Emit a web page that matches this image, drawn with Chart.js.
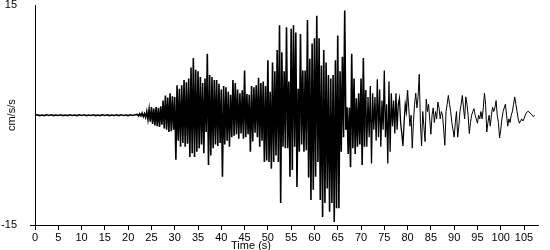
<!DOCTYPE html>
<html>
<head>
<meta charset="utf-8">
<script src="https://cdn.jsdelivr.net/npm/chart.js@4/dist/chart.umd.min.js"></script>
<style>
    html, body { margin: 0; padding: 0; background: #fff; }
    #wrap { width: 550px; height: 250px; }
</style>
</head>
<body>
<div id="wrap"><canvas id="accelChart" width="550" height="250"></canvas></div>
<script>
// --- Data ---
const quietStep = 0.5;   // s, pre-event part
const quietAccel = [
    0.0, 0.05, -0.05, 0.03, -0.05, 0.05, -0.03, 0.05, -0.05, 0.03,
    -0.03, 0.05, -0.05, 0.03, -0.05, 0.05, -0.03, 0.03, -0.05, 0.05,
    -0.03, 0.05, -0.05, 0.03, -0.03, 0.05, -0.05, 0.03, -0.05, 0.05,
    -0.03, 0.05, -0.05, 0.03, -0.03, 0.05, -0.05, 0.05, -0.03, 0.03,
    -0.05, 0.05, -0.03, 0.05
];
const strongStart = 22;  // s
const strongStep = 0.25; // s
const strongAccel = [
    0.1, -0.1, 0.2, -0.1,      // 22
    0.3, -0.2, 0.2, -0.3,
    0.5, -0.6, 0.8, -0.9,
    1.1, -1.2, 0.9, -1.4,      // 25
    1.1, -1.5, 1.0, -1.6,
    1.2, -1.3, 2.0, -1.8,
    2.7, -2.0, 2.4, -2.3,
    3.0, -2.2, 2.6, -2.0,
    2.5, -6.1, 4.1, -3.5,      // 30
    3.6, -4.3, 4.1, -3.8,
    4.8, -4.3, 4.5, -3.9,
    5.0, -5.7, 6.5, -5.2,
    7.8, -5.7, 6.2, -5.0,
    6.0, -4.5, 5.2, -4.0,      // 35
    4.4, -5.2, 5.0, -2.3,
    8.4, -6.8, 5.5, -5.5,
    5.2, -4.5, 4.8, -4.0,
    4.8, -4.2, 4.3, -3.8,
    3.5, -8.4, 4.0, -4.0,      // 40
    3.8, -3.5, 3.2, -4.3,
    2.8, -3.0, 4.8, -2.8,
    4.4, -2.6, 3.5, -3.2,
    3.0, -2.5, 3.4, -3.2,
    6.1, -3.0, 2.9, -2.6,      // 45
    2.8, -5.0, 4.0, -3.6,
    3.8, -2.4, 4.1, -3.0,
    5.1, -4.3, 4.4, -3.5,
    4.6, -6.4, 4.0, -6.2,
    7.5, -6.4, 3.2, -7.3,      // 50
    7.2, -6.4, 6.0, -5.5,
    8.9, -6.4, 12.3, -12.0,
    8.6, -4.3, 6.0, -4.5,
    12.0, -4.5, 4.6, -8.4,
    11.8, -7.5, 12.3, -4.3,    // 55
    11.3, -9.8, 3.6, -5.0,
    11.1, -4.0, 6.1, -5.0,
    6.1, -4.8, 13.0, -8.5,
    7.7, -11.6, 9.8, -10.2,
    10.5, -8.4, 13.6, -6.4,    // 60
    10.5, -11.6, 6.8, -13.9,
    8.9, -12.0, 7.2, -10.0,
    5.5, -13.2, 5.0, -12.0,
    5.5, -14.6, 7.5, -12.7,
    10.9, -12.7, 6.0, -5.0,    // 65
    8.0, -3.0, 14.3, -2.0,
    1.1, -5.3, 1.0, -7.1,
    8.4, -4.5, 5.0, -5.3,
    2.3, -4.3, 3.0, -4.0,
    5.0, -6.8, 7.8, -4.3,      // 70
    3.4, -4.3, 2.5, -3.0,
    4.0, -6.6, 3.0, -2.0,
    2.5, -3.5, 4.9, -3.0,
    3.5, -4.3, 2.0, -2.0,
    6.1, -3.0, 1.5, -6.6,      // 75
    4.6, -5.0, 3.0, -1.5,
    2.0, -2.5, 3.0, -2.0,
    1.5, 2.3, -1.0, -2.5,
    -4.2, -1.0, 1.5, 0.5,
    3.4, 1.0, -1.5, 0.0,       // 80
    -4.5, -1.0, 1.5, 3.0,
    1.0, 2.5, 5.6, -1.0,
    -4.2, 0.5, -1.5, -3.6,
    2.2, 0.5, 1.5, -0.5,
    -2.6, 0.0, 1.0, -1.0,      // 85
    0.5, -0.5, 1.8, 1.0,
    -0.5, 0.5, 0.0, -2.0,
    -4.1, 0.5, 1.5, 2.7,
    1.5, 0.5, -1.0, -2.0,
    -3.0, -1.0, 0.5, -3.0,     // 90
    -1.5, 0.5, 1.5, 2.7,
    1.0, -0.5, 2.5, 1.5,
    0.0, -2.5, -1.0, 0.0,
    0.5, 0.9, 0.0, -0.5,
    -1.1, 0.0, -0.5, 0.5,      // 95
    -0.5, 1.0, 3.0, 1.5,
    -2.3, -1.0, 0.0, -1.5,
    0.0, 1.1, 0.5, 1.0,
    2.0, 0.0, -1.0, -3.1,
    -2.0, -0.5, 0.5, 1.0,      // 100
    1.5, 0.0, -1.5, -0.5,
    -1.0, 0.0, 0.5, 1.5,
    2.5, 1.5, 0.5, -0.5,
    -1.1, -0.8, -0.5, -0.8,
    -0.5, 0.0, 0.3, 0.5,       // 105
    0.5, 0.3, 0.2, 0.0,
    -0.2, 0.0
];
const timeTicks = [0, 5, 10, 15, 20, 25, 30, 35, 40, 45, 50, 55, 60, 65, 70, 75, 80, 85, 90, 95, 100, 105];
const accelTicks = [-15, 15];
const xTitle = 'Time (s)';
const yTitle = 'cm/s/s';

document.addEventListener('DOMContentLoaded', function() {

    // --- build the x/y points ---
    const points = [];
    quietAccel.forEach((v, i) => points.push({ x: i * quietStep, y: v }));
    strongAccel.forEach((v, i) => points.push({ x: strongStart + i * strongStep, y: v }));

    const fontFamily = "'Liberation Sans', Arial, sans-serif";

    // --- axis titles and the little stub of the x axis left of the y axis ---
    const axisExtras = {
        id: 'axisExtras',
        afterDraw(chart) {
            const c = chart.ctx;
            const area = chart.chartArea;
            c.save();
            c.strokeStyle = '#000';
            c.lineWidth = 1;
            c.beginPath();
            c.moveTo(area.left - 5, Math.round(area.bottom) + 0.5);
            c.lineTo(area.left, Math.round(area.bottom) + 0.5);
            c.stroke();

            c.fillStyle = '#000';
            c.font = '11px ' + fontFamily;
            c.textAlign = 'center';
            c.textBaseline = 'middle';
            c.fillText(xTitle, 251, 246);
            c.translate(12, (area.top + area.bottom) / 2);
            c.rotate(-Math.PI / 2);
            c.fillText(yTitle, 0, 0);
            c.restore();
        }
    };

    new Chart(document.getElementById('accelChart'), {
        type: 'line',
        data: {
            datasets: [{
                data: points,
                borderColor: '#000',
                borderWidth: 1,
                pointRadius: 0,
                tension: 0,
                fill: false,
                segment: {
                    // the busy part of the record reads as a solid black band
                    borderWidth: ctx => {
                        const t = ctx.p0.parsed.x;
                        if (t < 71) return 1.6;
                        if (t < 80) return 1.3;
                        return 1;
                    }
                }
            }]
        },
        options: {
            responsive: false,
            animation: false,
            devicePixelRatio: 1,
            parsing: false,
            layout: { padding: { left: 0, right: 12, top: 0, bottom: 0 } },
            plugins: {
                legend: { display: false },
                tooltip: { enabled: false }
            },
            scales: {
                x: {
                    type: 'linear',
                    min: 0,
                    max: 108,
                    border: { color: '#000', width: 1 },
                    grid: { drawOnChartArea: false, tickLength: 5, color: '#000' },
                    ticks: { color: '#000', font: { family: fontFamily, size: 11 }, padding: 1, maxRotation: 0, autoSkip: false },
                    afterBuildTicks: axis => { axis.ticks = timeTicks.map(v => ({ value: v })); },
                    afterFit: axis => { axis.height = 25; }
                },
                y: {
                    min: -15,
                    max: 15,
                    border: { color: '#000', width: 1 },
                    grid: { drawOnChartArea: false, tickLength: 17, color: 'rgba(0,0,0,0)' },
                    ticks: { color: '#000', font: { family: fontFamily, size: 11, lineHeight: 0.8 }, padding: 1 },
                    afterBuildTicks: axis => { axis.ticks = accelTicks.map(v => ({ value: v })); },
                    afterFit: axis => { axis.width = 35; }
                }
            }
        },
        plugins: [axisExtras]
    });
});
</script>
</body>
</html>
